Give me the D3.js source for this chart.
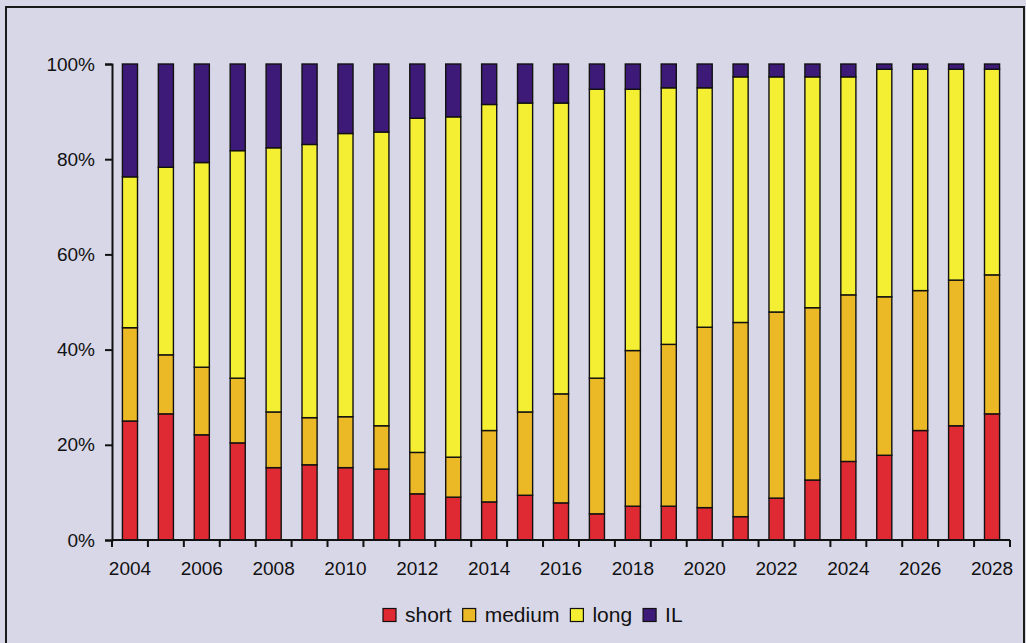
<!DOCTYPE html>
<html>
<head>
<meta charset="utf-8">
<script src="https://cdn.jsdelivr.net/npm/d3@7"></script>
<style>
  html, body { margin: 0; padding: 0; background: #d8d7e8; }
  svg { display: block; }
  text { font-family: "Liberation Sans", Arial, Helvetica, sans-serif; fill: #111; }
</style>
</head>
<body>
<svg id="chart" width="1026" height="643"></svg>
<script>
// Maturity mix of outstanding debt by year (shares in %)
const years = [2004, 2005, 2006, 2007, 2008, 2009, 2010, 2011, 2012, 2013, 2014, 2015, 2016,
               2017, 2018, 2019, 2020, 2021, 2022, 2023, 2024, 2025, 2026, 2027, 2028];
const seriesNames = ["short", "medium", "long", "IL"];
const shortShare  = [25.0, 26.5, 22.1, 20.4, 15.2, 15.8, 15.2, 14.9, 9.7, 9.0, 8.0, 9.4, 7.8,
                     5.5, 7.1, 7.1, 6.8, 4.9, 8.8, 12.6, 16.5, 17.8, 23.0, 24.0, 26.5];
const mediumShare = [19.6, 12.4, 14.2, 13.6, 11.7, 9.9, 10.7, 9.1, 8.7, 8.4, 15.0, 17.5, 22.9,
                     28.5, 32.7, 34.0, 37.9, 40.8, 39.1, 36.2, 35.0, 33.3, 29.4, 30.6, 29.2];
const longShare   = [31.7, 39.4, 43.0, 47.8, 55.5, 57.4, 59.5, 61.7, 70.2, 71.5, 68.5, 64.9, 61.1,
                     60.7, 54.9, 53.9, 50.3, 51.6, 49.4, 48.5, 45.8, 47.8, 46.5, 44.3, 43.2];
const ilShare     = [23.7, 21.7, 20.7, 18.2, 17.6, 16.9, 14.6, 14.3, 11.4, 11.1, 8.5, 8.2, 8.2,
                     5.3, 5.3, 5.0, 5.0, 2.7, 2.7, 2.7, 2.7, 1.1, 1.1, 1.1, 1.1];
const yTicks = [0, 20, 40, 60, 80, 100];
const xLabelYears = [2004, 2006, 2008, 2010, 2012, 2014, 2016, 2018, 2020, 2022, 2024, 2026, 2028];

const colors = { short: "#e02a33", medium: "#ebb826", long: "#f5ef33", IL: "#3d1a78" };

const rows = years.map((yr, i) => ({
  year: yr, short: shortShare[i], medium: mediumShare[i], long: longShare[i], IL: ilShare[i]
}));

const svg = d3.select("#chart");

// outer frame
svg.append("rect")
  .attr("x", 6).attr("y", 7).attr("width", 1018).attr("height", 660)
  .attr("fill", "none").attr("stroke", "#1a1a1a").attr("stroke-width", 2);

const plotLeft = 112, plotRight = 1010, plotTop = 64, plotBottom = 540;

const x = d3.scaleBand().domain(years).range([plotLeft, plotRight])
  .paddingInner(0.58).paddingOuter(0.29);
const y = d3.scaleLinear().domain([0, 100]).range([plotBottom, plotTop]);

const stack = d3.stack().keys(seriesNames).order(d3.stackOrderNone).offset(d3.stackOffsetNone);
const layers = stack(rows);

svg.append("g").selectAll("g")
  .data(layers).join("g")
  .attr("fill", d => colors[d.key])
  .selectAll("rect")
  .data(d => d).join("rect")
  .attr("x", d => x(d.data.year))
  .attr("width", x.bandwidth())
  .attr("y", d => y(d[1]))
  .attr("height", d => y(d[0]) - y(d[1]))
  .attr("stroke", "#111")
  .attr("stroke-width", 1.4);

// y axis
const yAxis = svg.append("g")
  .attr("transform", `translate(${plotLeft},0)`)
  .call(d3.axisLeft(y).tickValues(yTicks).tickFormat(d => d + "%").tickSize(7).tickPadding(10));
yAxis.select(".domain").attr("stroke", "#111").attr("stroke-width", 2);
yAxis.selectAll(".tick line").attr("stroke", "#111").attr("stroke-width", 2);
yAxis.selectAll(".tick text").attr("font-size", 19).attr("fill", "#111")
  .style("font-family", "'Liberation Sans', Arial, sans-serif");

// x axis: ticks sit on category boundaries, labels on every other year
const boundaries = years.map(yr => x(yr) - x.step() * x.paddingInner() / 2)
  .concat([plotRight]);
const xg = svg.append("g");
xg.append("line")
  .attr("x1", plotLeft).attr("x2", plotRight).attr("y1", plotBottom).attr("y2", plotBottom)
  .attr("stroke", "#111").attr("stroke-width", 2);
xg.selectAll("line.tick").data(boundaries).join("line")
  .attr("class", "tick")
  .attr("x1", d => d).attr("x2", d => d)
  .attr("y1", plotBottom).attr("y2", plotBottom + 7)
  .attr("stroke", "#111").attr("stroke-width", 2);
xg.selectAll("text").data(xLabelYears).join("text")
  .attr("x", d => x(d) + x.bandwidth() / 2)
  .attr("y", 575)
  .attr("text-anchor", "middle")
  .attr("font-size", 19)
  .text(d => d);

// legend
const legend = svg.append("g");
let cx = 383;
seriesNames.forEach(name => {
  legend.append("rect")
    .attr("x", cx).attr("y", 608.5).attr("width", 13).attr("height", 13)
    .attr("fill", colors[name]).attr("stroke", "#111").attr("stroke-width", 1.2);
  const t = legend.append("text")
    .attr("x", cx + 22).attr("y", 622)
    .attr("font-size", 21)
    .text(name);
  cx = cx + 22 + t.node().getComputedTextLength() + 11;
});
</script>
</body>
</html>
